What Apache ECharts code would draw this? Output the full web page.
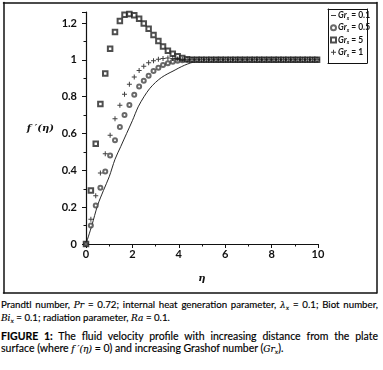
<!DOCTYPE html>
<html>
<head>
<meta charset="utf-8">
<script src="https://cdn.jsdelivr.net/npm/echarts@6/dist/echarts.min.js"></script>
<style>
  html, body { margin: 0; background: #fff; width: 383px; height: 370px; }
  #chart { position: absolute; left: 0; top: 0; width: 383px; height: 296px; }
  #caption { position: absolute; left: 1px; top: 298px; width: 377px; font-family: Lato, sans-serif; color: #000; -webkit-text-stroke: 0.15px #000; }
  .l { font-size: 9.7px; line-height: 12px; white-space: nowrap; }
  .j { text-align: justify; text-align-last: justify; white-space: normal; }
  .f { font-size: 10.5px; line-height: 12px; white-space: nowrap; }
  .m { font-family: "DejaVu Serif", serif; font-style: italic; font-size: 9px; }
  sub { font-size: 6px; vertical-align: -2px; line-height: 0; }
</style>
</head>
<body>
<div id="chart"></div>
<div id="caption">
  <div class="l j">Prandtl number, <span class="m">Pr</span> = 0.72; internal heat generation parameter, <span class="m">λ<sub>x</sub></span> = 0.1; Biot number,</div>
  <div class="l"><span class="m">Bi<sub>x</sub></span> = 0.1; radiation parameter, <span class="m">Ra</span> = 0.1.</div>
  <div class="f j" style="margin-top:6px"><b>FIGURE 1:</b> The fluid velocity profile with increasing distance from the plate</div>
  <div class="f">surface (where <span class="m">f ′(η)</span> = 0) and increasing Grashof number (<span class="m">Gr<sub>x</sub></span>).</div>
</div>
<script>
// marker positions along eta (shared by the three marker series)
const etaPts = [0, 0.21, 0.42, 0.62, 0.83, 1.04, 1.25, 1.46, 1.66, 1.87,
  2.08, 2.29, 2.49, 2.70, 2.91, 3.12, 3.32, 3.53, 3.74, 3.95,
  4.15, 4.36, 4.57, 4.78, 4.98, 5.19, 5.40, 5.61, 5.81, 6.02,
  6.23, 6.44, 6.64, 6.85, 7.06, 7.27, 7.47, 7.68, 7.89, 8.10,
  8.30, 8.51, 8.72, 8.93, 9.13, 9.34, 9.55, 9.76, 9.96];

const gr05 = [0, 0.10, 0.209, 0.305, 0.394, 0.481, 0.563, 0.636, 0.70, 0.755,
  0.81, 0.855, 0.887, 0.914, 0.939, 0.957, 0.972, 0.982, 0.99, 0.995,
  0.998, 1, 1, 1, 1, 1, 1, 1, 1, 1,
  1, 1, 1, 1, 1, 1, 1, 1, 1, 1,
  1, 1, 1, 1, 1, 1, 1, 1, 1];

const gr5 = [0, 0.29, 0.545, 0.761, 0.926, 1.061, 1.151, 1.211, 1.245, 1.249,
  1.242, 1.224, 1.197, 1.169, 1.135, 1.103, 1.072, 1.05, 1.033, 1.02,
  1.01, 1.003, 1, 1, 1, 1, 1, 1, 1, 1,
  1, 1, 1, 1, 1, 1, 1, 1, 1, 1,
  1, 1, 1, 1, 1, 1, 1, 1, 1];

const gr1 = [0, 0.135, 0.262, 0.385, 0.49, 0.59, 0.68, 0.753, 0.813, 0.867,
  0.907, 0.942, 0.966, 0.984, 0.995, 1.003, 1.008, 1.01, 1.008, 1.005,
  1.003, 1.001, 1, 1, 1, 1, 1, 1, 1, 1,
  1, 1, 1, 1, 1, 1, 1, 1, 1, 1,
  1, 1, 1, 1, 1, 1, 1, 1, 1];

// solid curve, Gr_x = 0.1
const lineEta = [0, 0.25, 0.5, 0.75, 1, 1.25, 1.5, 1.75, 2, 2.25, 2.5, 2.75,
  3, 3.25, 3.5, 3.75, 4, 4.25, 4.5, 4.75, 5, 5.5, 10];
const gr01 = [0, 0.1, 0.21, 0.29, 0.365, 0.46, 0.53, 0.6, 0.67, 0.745, 0.8, 0.845,
  0.878, 0.904, 0.923, 0.939, 0.956, 0.971, 0.983, 0.992, 0.998, 1, 1];

const legendNames = ['0.1', '0.5', '5', '1'];
const yTicks = ['0', '0.2', '0.4', '0.6', '0.8', '1', '1.2'];

const zip = (xs, ys) => xs.map((x, i) => [x, ys[i]]);
const plusPath = 'path://M2,0H3V2H5V3H3V5H2V3H0V2H2Z';
const dashPath = 'path://M0,0H6V1H0Z';

// bare axes used only as box edges (outer frame = grid 1, legend box = grid 2)
const edgeX = (g, pos, w) => ({
    type: 'value', gridIndex: g, position: pos, min: 0, max: 1, show: true,
    axisLine: { onZero: false, lineStyle: { color: '#111', width: w } },
    axisTick: { show: false }, axisLabel: { show: false }, splitLine: { show: false }
});
const edgeY = (g, pos, w) => ({
    type: 'value', gridIndex: g, position: pos, min: 0, max: 1, show: true,
    axisLine: { onZero: false, lineStyle: { color: '#111', width: w } },
    axisTick: { show: false }, axisLabel: { show: false }, splitLine: { show: false }
});

const chart = echarts.init(document.getElementById('chart'));

chart.setOption({
    animation: false,
    backgroundColor: 'transparent',
    textStyle: { fontFamily: 'Lato, sans-serif' },
    grid: [
        { left: 86, right: 65, top: 12, bottom: 52 },
        { left: 3.5, right: 6.5, top: 2.5, bottom: 3 },
        { left: 328, top: 9, width: 39, height: 54 }
    ],
    legend: {
        orient: 'vertical',
        left: 328,
        top: 11,
        padding: [0, 2, 0, 2],
        itemGap: 2.5,
        itemWidth: 5,
        itemHeight: 5,
        data: legendNames.map((n, i) => ({
            name: n,
            icon: [dashPath, 'emptyCircle', 'emptyRect', plusPath][i]
        })),
        formatter: n => '{g|Gr}{s|x}{n| = ' + n + '}',
        textStyle: {
            padding: [0, 0, 0, -3],
            rich: {
                g: { fontFamily: 'Lato', fontStyle: 'italic', fontWeight: 'bold', fontSize: 8.5, color: '#111', height: 10.5 },
                s: { fontFamily: 'Lato', fontStyle: 'italic', fontWeight: 'bold', fontSize: 5, color: '#111', verticalAlign: 'bottom', padding: [4, 0, 0, 0] },
                n: { fontFamily: 'Lato', fontWeight: 'bold', fontSize: 8.5, color: '#111' }
            }
        }
    },
    xAxis: [{
        type: 'value',
        min: 0,
        max: 10,
        interval: 2,
        name: 'η',
        nameLocation: 'middle',
        nameGap: 29,
        nameTextStyle: { fontFamily: 'DejaVu Serif', fontStyle: 'italic', fontWeight: 'bold', fontSize: 10, color: '#111' },
        splitLine: { show: false },
        axisLine: { onZero: false, lineStyle: { color: '#111', width: 1.2 } },
        axisTick: { length: 4, lineStyle: { color: '#111' } },
        minorTick: { show: true, splitNumber: 2, length: 2.5, lineStyle: { color: '#111' } },
        axisLabel: { margin: 5, fontWeight: 'bold', fontSize: 11, color: '#111' }
    },
        edgeX(1, 'bottom', 1.5), edgeX(1, 'top', 1.5),
        edgeX(2, 'bottom', 1), edgeX(2, 'top', 1)
    ],
    yAxis: [{
        type: 'value',
        min: 0,
        max: 1.26,
        interval: 0.2,
        name: 'f ′(η)',
        nameLocation: 'middle',
        nameRotate: 0,
        nameGap: 32,
        nameTextStyle: { fontFamily: 'DejaVu Serif', fontStyle: 'italic', fontWeight: 'bold', fontSize: 10, color: '#111', align: 'right' },
        splitLine: { show: false },
        axisLine: { show: true, lineStyle: { color: '#111', width: 1.2 } },
        axisTick: { show: true, length: 4, lineStyle: { color: '#111' } },
        minorTick: { show: true, splitNumber: 2, length: 2.5, lineStyle: { color: '#111' } },
        axisLabel: {
            margin: 9,
            showMaxLabel: false,
            fontWeight: 'bold',
            fontSize: 11,
            color: '#111',
            formatter: v => yTicks.find(t => Math.abs(parseFloat(t) - v) < 1e-6) || ''
        }
    },
        edgeY(1, 'left', 1.5), edgeY(1, 'right', 1.5),
        edgeY(2, 'left', 1), edgeY(2, 'right', 1)
    ],
    series: [
        {
            name: '0.1',
            type: 'line',
            data: zip(lineEta, gr01),
            showSymbol: false,
            smooth: 0.3,
            lineStyle: { color: '#111', width: 0.9 },
            itemStyle: { color: '#111' },
            z: 1
        },
        {
            name: '0.5',
            type: 'scatter',
            data: zip(etaPts, gr05),
            symbol: 'emptyCircle',
            symbolSize: 4,
            itemStyle: { color: '#444', borderWidth: 0.7 }
        },
        {
            name: '5',
            type: 'scatter',
            data: zip(etaPts, gr5),
            symbol: 'emptyRect',
            symbolSize: 4.5,
            itemStyle: { color: '#222', borderWidth: 0.7 }
        },
        {
            name: '1',
            type: 'scatter',
            data: zip(etaPts, gr1),
            symbol: plusPath,
            symbolSize: 5,
            itemStyle: { color: '#111' }
        }
    ]
});
</script>
</body>
</html>
